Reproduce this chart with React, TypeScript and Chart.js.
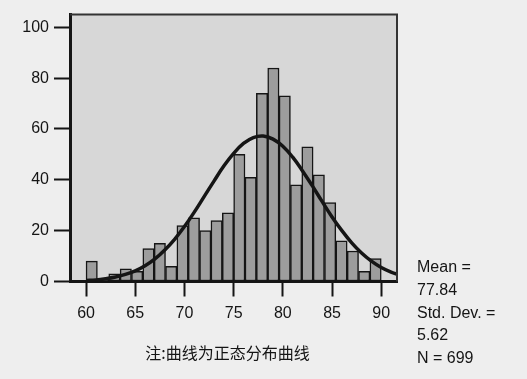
import React, { useEffect, useRef } from "react";
import { Chart, registerables } from "chart.js";

Chart.register(...registerables);

// Histogram bins span 60..90 in 26 equal bins
const binMin = 60;
const binMax = 90;
const binCounts = [8, 1, 3, 5, 4, 13, 15, 6, 22, 25, 20, 24, 27, 50, 41, 74, 84, 73, 38, 53, 42, 31, 16, 12, 4, 9];

// Fitted normal curve
const curveX = [60, 61, 62, 63, 64, 65, 66, 67, 68, 69, 70, 71, 72, 73, 74, 75, 76, 77, 78, 79, 80, 81, 82, 83, 84, 85, 86, 87, 88, 89, 90, 91, 92];
const curveY = [0.4, 0.6, 1.1, 1.8, 2.8, 4.2, 6.2, 8.9, 12.4, 16.6, 21.6, 27.3, 33.4, 39.5, 45.4, 50.4, 54.3, 56.6, 57.2, 56.0, 53.2, 48.9, 43.5, 37.6, 31.4, 25.4, 20.0, 15.2, 11.2, 8.0, 5.5, 3.7, 2.4];

const xTicks = [60, 65, 70, 75, 80, 85, 90];
const yTicks = [0, 20, 40, 60, 80, 100];

const statsLines = ["Mean =", "77.84", "Std. Dev. =", "5.62", "N = 699"];
const noteText = "注:曲线为正态分布曲线";

const PAGE_BG = "#eeeeee";
const PLOT_BG = "#d7d7d7";
const INK = "#151515";

export default function App() {
  const ref = useRef<HTMLCanvasElement | null>(null);

  useEffect(() => {
    const canvas = ref.current;
    if (!canvas) return;
    const binW = (binMax - binMin) / binCounts.length;
    const bars = binCounts.map((c, i) => ({ x: binMin + (i + 0.5) * binW, y: c }));
    const curve = curveX.map((x, i) => ({ x, y: curveY[i] }));
    const font = { family: "'Liberation Sans', Arial, sans-serif", size: 16 };

    const bgPlugin = {
      id: "bg",
      beforeDraw(chart: any) {
        const { ctx, chartArea: a } = chart;
        ctx.save();
        ctx.fillStyle = PAGE_BG;
        ctx.fillRect(0, 0, chart.width, chart.height);
        ctx.fillStyle = PLOT_BG;
        ctx.fillRect(a.left, a.top, a.right - a.left, a.bottom - a.top);
        ctx.restore();
      },
      afterDraw(chart: any) {
        const { ctx, chartArea: a } = chart;
        ctx.save();
        ctx.strokeStyle = "#333";
        ctx.lineWidth = 2;
        ctx.beginPath();
        ctx.moveTo(a.left, a.top);
        ctx.lineTo(a.right, a.top);
        ctx.lineTo(a.right, a.bottom);
        ctx.stroke();
        ctx.restore();
      },
    };

    const chart = new Chart(canvas, {
      data: {
        datasets: [
          {
            type: "line",
            data: curve,
            borderColor: INK,
            borderWidth: 3.5,
            pointRadius: 0,
            tension: 0.4,
            order: 1,
          } as any,
          {
            type: "bar",
            data: bars,
            backgroundColor: "#9d9d9d",
            borderColor: INK,
            borderWidth: 1.5,
            borderSkipped: false,
            barPercentage: 1,
            categoryPercentage: 1,
            order: 2,
          } as any,
        ],
      },
      options: {
        animation: false,
        responsive: false,
        layout: { padding: { top: 12, right: 130, left: 0, bottom: 0 } },
        plugins: { legend: { display: false }, tooltip: { enabled: false } },
        scales: {
          x: {
            type: "linear",
            min: 58.37,
            max: 91.6,
            offset: false,
            afterBuildTicks: (s: any) => {
              s.ticks = xTicks.map((v) => ({ value: v }));
            },
            afterFit: (s: any) => {
              s.height = 97.5;
            },
            grid: { offset: false, drawOnChartArea: false, tickLength: 15, tickWidth: 2, tickColor: INK },
            border: { color: INK, width: 3 },
            ticks: { padding: 7, font, color: INK, maxRotation: 0 },
          },
          y: {
            type: "linear",
            min: 0,
            max: 105,
            afterBuildTicks: (s: any) => {
              s.ticks = yTicks.map((v) => ({ value: v }));
            },
            afterFit: (s: any) => {
              s.width = 70;
            },
            grid: { drawOnChartArea: false, tickLength: 16, tickWidth: 2, tickColor: INK },
            border: { color: INK, width: 3 },
            ticks: { padding: 5, font, color: INK },
          },
        },
      },
      plugins: [bgPlugin],
    } as any);
    return () => chart.destroy();
  }, []);

  return (
    <div style={{ position: "fixed", left: 0, top: 0, width: 527, height: 379, background: PAGE_BG, overflow: "hidden" }}>
      <canvas ref={ref} width={527} height={379} style={{ display: "block", width: 527, height: 379 }} />
      <div
        style={{
          position: "absolute",
          left: 417,
          top: 256,
          fontFamily: "'Liberation Sans', Arial, sans-serif",
          fontSize: 16,
          lineHeight: "22.8px",
          color: INK,
          whiteSpace: "nowrap",
        }}
      >
        {statsLines.map((t, i) => (
          <div key={i}>{t}</div>
        ))}
      </div>
      <div
        style={{
          position: "absolute",
          left: 0,
          width: 455,
          top: 340,
          textAlign: "center",
          fontFamily: "'Noto Sans CJK SC', sans-serif",
          fontSize: 16,
          lineHeight: "24px",
          color: INK,
          whiteSpace: "nowrap",
        }}
      >
        {noteText}
      </div>
    </div>
  );
}
